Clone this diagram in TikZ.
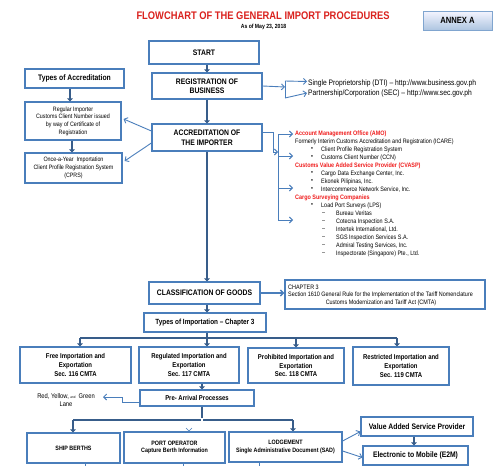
\documentclass[tikz,border=0pt]{standalone}
\usepackage{fontspec}
\setmainfont{Liberation Sans}[FakeStretch=0.85]
\usetikzlibrary{arrows.meta,calc,shadows}
\definecolor{bord}{RGB}{74,126,187}
\definecolor{dk}{RGB}{56,93,138}
\definecolor{ttl}{RGB}{218,34,30}
\definecolor{rd}{RGB}{240,30,30}
\newcommand\F[2]{\fontsize{#1}{#2}\selectfont}
\tikzset{
 box/.style={draw=bord, line width=1.2pt, fill=white, inner sep=1pt, align=center, font=\bfseries\F{8}{9.5}},
 thk/.style={color=dk, line width=2pt, -{Triangle[length=3pt,width=5.5pt]}},
 thkline/.style={color=dk, line width=2pt},
 thn/.style={color=bord, line width=0.9pt, -{Straight Barb[length=3pt,width=6pt]}},
 thnline/.style={color=bord, line width=0.9pt},
 txt/.style={inner sep=0pt, anchor=west, font=\F{6}{7}},
 rtx/.style={inner sep=0pt, anchor=west, font=\F{6.4}{7}},
 rred/.style={inner sep=0pt, anchor=west, text=rd, font=\bfseries\F{6.4}{7}},
}
\begin{document}
\begin{tikzpicture}[x=1pt,y=-1pt]
\useasboundingbox (0,0) rectangle (500,466);
\fill[white] (0,0) rectangle (500,466);

% main column
\node[box, minimum width=110pt, minimum height=23pt] (start) at (204,52.5) {START};
\node[box, minimum width=110pt, minimum height=26pt] (reg) at (207,86) {REGISTRATION OF\\BUSINESS};
\node[box, minimum width=110pt, minimum height=27pt] (acc) at (207,137.5) {ACCREDITATION OF\\THE IMPORTER};

% left column
\node[box, minimum width=99pt, minimum height=19pt] (tacc) at (74.5,78.5) {Types of Accreditation};
\node[box, font=\F{6.3}{7.6}, minimum width=96pt, minimum height=38pt] (regi) at (73,121) {Regular Importer\\Customs Client Number issued\\by way of Certificate of\\Registration};
\node[box, font=\F{6.3}{8}, minimum width=97pt, minimum height=30pt] (once) at (73.5,168) {Once-a-Year\ \ Importation\\Client Profile Registration System\\(CPRS)};

% registration links
\node[txt, font=\F{7.9}{8}] (dti) at (308,83) {Single Proprietorship (DTI) – http://www.business.gov.ph};
\node[txt, font=\F{7.9}{8}] (secn) at (308,93) {Partnership/Corporation (SEC) – http://www.sec.gov.ph};
\coordinate (rb) at (285,87);
\coordinate (rb1) at (285,81);
\coordinate (rb2) at (285,98);

% right block anchors
\coordinate (kin) at (278,152);
\coordinate (kt) at (278,134);
\coordinate (kb) at (278,220);
\coordinate (ke1) at (293,134);
\coordinate (ke2) at (293,156);
\coordinate (ke3) at (293,188);
\coordinate (ke4) at (293,220);

% classification
\node[box, minimum width=111pt, minimum height=22pt] (cls) at (204.5,293) {CLASSIFICATION OF GOODS};
\node[box, minimum width=200pt, minimum height=29pt] (chap) at (385,294.5) {};
\node[txt, font=\F{6.4}{7}] (chap1) at (288,287) {CHAPTER 3};
\node[txt, font=\F{6.4}{7}] (chap2) at (288,295) {Section 1610 General Rule for the Implementation of the Tariff Nomenclature};
\node[txt, anchor=center, font=\F{6.4}{7}] (chap3) at (381,303) {Customs Modernization and Tariff Act (CMTA)};
\node[box, font=\bfseries\F{7.5}{9}, minimum width=122pt, minimum height=19pt] (timp) at (205,322.5) {Types of Importation – Chapter 3};

% import types
\node[box, font=\bfseries\F{7}{8.8}, minimum width=111pt, minimum height=36pt] (b1) at (75.5,365) {Free Importation and\\Exportation\\Sec. 116 CMTA};
\node[box, font=\bfseries\F{7}{8.8}, minimum width=100pt, minimum height=36pt] (b2) at (189,365) {Regulated Importation and\\Exportation\\Sec. 117 CMTA};
\node[box, font=\bfseries\F{7}{8.8}, minimum width=96pt, minimum height=35pt] (b3) at (296,365.5) {Prohibited Importation and\\Exportation\\Sec. 118 CMTA};
\node[box, font=\bfseries\F{7}{8.8}, minimum width=96pt, minimum height=38pt] (b4) at (401,366) {Restricted Importation and\\Exportation\\Sec. 119 CMTA};
\coordinate (bus) at (207,338);
\coordinate (busL) at (80,338);
\coordinate (bus3) at (296,338);
\coordinate (busR) at (397,338);

% pre-arrival
\node[box, font=\bfseries\F{7}{8}, minimum width=114pt, minimum height=16pt] (pre) at (197,398) {Pre- Arrival Processes};
\node[inner sep=0, align=center, font=\F{6.8}{8}] (lane) at (66,400) {Red, Yellow, {\F{3.5}{4}and}\ \ Green\\Lane};
\coordinate (laneend) at (103,397);
\coordinate (px) at (202,0);
\coordinate (bus2) at (202,420);
\coordinate (bus2L) at (73,420);
\coordinate (bus2R) at (293,420);
\coordinate (pbend) at (189,424);

% bottom row
\node[box, font=\bfseries\F{6.3}{8.5}, minimum width=93pt, minimum height=30pt] (ship) at (73.5,448) {SHIP BERTHS};
\node[box, font=\bfseries\F{6.3}{7.5}, minimum width=101pt, minimum height=31pt] (port) at (174.5,447.5) {PORT OPERATOR\\Capture Berth Information};
\node[box, font=\bfseries\F{6.3}{8.5}, minimum width=113pt, minimum height=30pt] (lodge) at (285.5,447) {LODGEMENT\\Single Administrative Document (SAD)};
\node[box, font=\bfseries\F{8}{9}, minimum width=112pt, minimum height=19pt] (vasp) at (417,426.5) {Value Added Service Provider};
\node[box, font=\bfseries\F{8}{9}, minimum width=105pt, minimum height=19pt] (e2m) at (415.5,455.5) {Electronic to Mobile (E2M)};
\coordinate (vx) at (414,0);
\coordinate (s1) at (85,466);
\coordinate (s2) at (183,466);
\coordinate (s3) at (259,466);

% ---------- connectors ----------
\draw[thk] (start.south -| reg) -- (reg.north);
\draw[thk] (reg.south) -- (acc.north);
\draw[thk] (acc.south) -- (acc.south |- cls.north);
\draw[thk] (cls.south -| acc) -- (timp.north -| acc);

\coordinate (ax) at (70,0);
\coordinate (ay) at (72,0);
\draw[thk] (tacc.south -| ax) -- (regi.north -| ax);
\draw[thk] (regi.south -| ay) -- (once.north -| ay);
\draw[thn] ($(acc.west)+(0,-6.5)$) -- ($(regi.east)+(2,-2)$);
\draw[thn] ($(acc.west)+(0,5.5)$) -- ($(once.east)+(2,-7)$);

\draw[thn] (reg.east) -- (rb);
\draw[thnline] (rb1) -- (rb2);
\draw[thn] (rb1) -- ($(dti.west)+(-1,-1.5)$);
\draw[thn] (rb2) -- ($(secn.west)+(-1,0)$);

\draw[thn] ($(acc.east)+(0,-5.5)$) -| ($(kin)+(-5,0)$) -- (kin);
\draw[thnline] (kt) -- (kb);
\draw[thn] (kt) -- (ke1);
\draw[thn] (kt |- ke2) -- (ke2);
\draw[thn] (kt |- ke3) -- (ke3);
\draw[thn] (kb) -- (ke4);

\draw[thn, line width=1.4pt] (cls.east) -- (cls.east -| chap.west);

\draw[thkline] (timp.south -| bus) -- (bus);
\draw[thkline] (busL) -- (busR);
\draw[thk] (busL) -- (busL |- b1.north);
\draw[thk] (bus) -- (bus |- b2.north);
\draw[thk] (bus3) -- (bus3 |- b3.north);
\draw[thk] (busR) -- (busR |- b4.north);

\draw[thk] (b2.south -| px) -- (pre.north -| px);
\draw[thn] ($(pre.west)+(0,4)$) -| ($(laneend)+(19,0)$) -- (laneend);
\draw[thkline] (pre.south -| px) -- (bus2);
\draw[thkline] (bus2L) -- (bus2R);
\draw[thk] (bus2L) -- (bus2L |- ship.north);
\draw[thk] (bus2R) -- (bus2R |- lodge.north);
\draw[draw=bord, line width=0.5pt, double=white, double distance=1.3pt, -{Straight Barb[length=3pt,width=6pt]}] ($(bus2)+(0,-2)$) |- (pbend) -- (port.north -| pbend);

\draw[thn] ($(lodge.east)+(0,-6)$) -- ($(vasp.west)+(0,5)$);
\draw[thn] ($(lodge.east)+(0,4)$) -- ($(e2m.west)+(0,2)$);
\draw[thk] (vasp.south -| vx) -- (e2m.north -| vx);

\draw[thnline] (ship.south -| s1) -- (s1);
\draw[thnline] (port.south -| s2) -- (s2);
\draw[thnline] (lodge.south -| s3) -- (s3);

% ---------- texts of the right block ----------
\node[rtx] (icare) at (295,142) {Formerly Interim Customs Accreditation and Registration (ICARE)};
\node[rtx] (bu1) at (311,149.5) {•};
\node[rtx] (cprs) at (321,149.5) {Client Profile Registration System};
\node[rtx] (bu2) at (311,157.5) {•};
\node[rtx] (ccn) at (321,157.5) {Customs Client Number (CCN)};
\node[rtx] (bu3) at (311,173.5) {•};
\node[rtx] (cdec) at (321,173.5) {Cargo Data Exchange Center, Inc.};
\node[rtx] (bu4) at (311,181.5) {•};
\node[rtx] (ekon) at (321,181.5) {Ekonek Pilipinas, Inc.};
\node[rtx] (bu5) at (311,189.5) {•};
\node[rtx] (inter) at (321,189.5) {Intercommerce Network Service, Inc.};
\node[rtx] (bu6) at (311,205.5) {•};
\node[rtx] (lps) at (321,205.5) {Load Port Surveys (LPS)};
\node[rtx] (d1) at (322,213.5) {–};
\node[rtx] (bv) at (336,213.5) {Bureau Veritas};
\node[rtx] (d2) at (322,221.5) {–};
\node[rtx] (cot) at (336,221.5) {Cotecna Inspection S.A.};
\node[rtx] (d3) at (322,229.5) {–};
\node[rtx] (itk) at (336,229.5) {Intertek International, Ltd.};
\node[rtx] (d4) at (322,237.5) {–};
\node[rtx] (sgs) at (336,237.5) {SGS Inspection Services S.A.};
\node[rtx] (d5) at (322,245.5) {–};
\node[rtx] (adm) at (336,245.5) {Admiral Testing Services, Inc.};
\node[rtx] (d6) at (322,253.5) {–};
\node[rtx] (insp) at (336,253.5) {Inspectorate (Singapore) Pte., Ltd.};
\node[rred] (amo) at (295,134) {Account Management Office (AMO)};
\node[rred] (cvasp) at (295,165.5) {Customs Value Added Service Provider (CVASP)};
\node[rred] (csc) at (295,197.5) {Cargo Surveying Companies};

% title
\node[inner sep=0, font=\bfseries\F{6}{7}] (sub) at (263.5,27) {As of May 23, 2018};
\node[draw=bord!70, line width=0.6pt, top color=blue!4, bottom color=bord!45, drop shadow={shadow xshift=1pt, shadow yshift=-1pt, opacity=0.35}, minimum width=69pt, minimum height=19pt, inner sep=0, font=\bfseries\F{9}{10}] (annex) at (457.5,20.5) {ANNEX A};
\node[inner sep=0, text=ttl, font=\bfseries\F{11}{13}] (title) at (263,16) {FLOWCHART OF THE GENERAL IMPORT PROCEDURES};
\end{tikzpicture}
\end{document}
